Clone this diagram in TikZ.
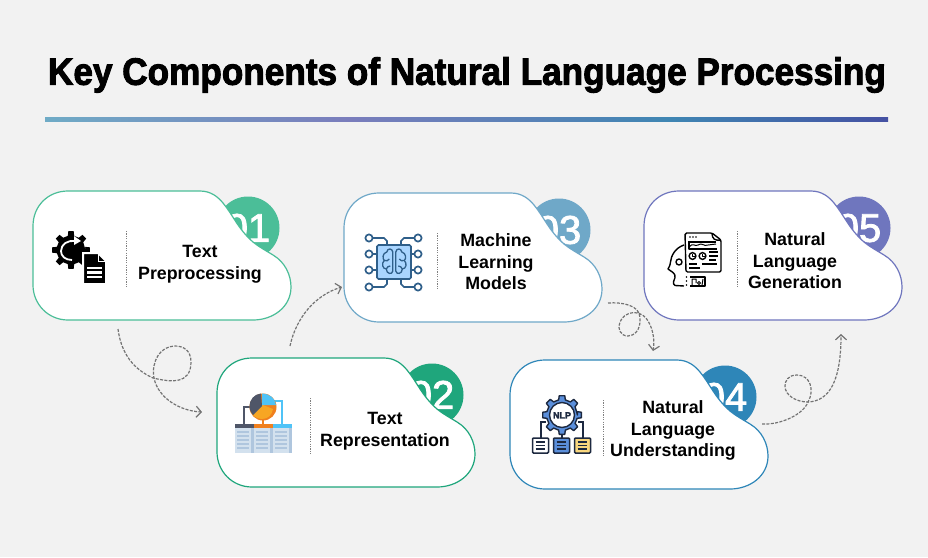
\documentclass[tikz,border=0pt]{standalone}
\usepackage{fontspec}
\setmainfont{Liberation Sans}
\newfontfamily\titlefont[UprightFont=* Bold,FakeBold=2.6]{Liberation Sans}
\newfontfamily\cardfont[UprightFont=* Bold]{Liberation Sans}
\newfontfamily\numfont[FakeBold=2]{Liberation Sans}
\usetikzlibrary{arrows.meta}

\definecolor{pagegray}{HTML}{F2F2F2}
\definecolor{cgreena}{HTML}{4BBE98}
\definecolor{cgreenb}{HTML}{1FA67C}
\definecolor{cbluea}{HTML}{6FA8C8}
\definecolor{cblueb}{HTML}{2E86B8}
\definecolor{cviolet}{HTML}{6F76BE}
\definecolor{ruleA}{HTML}{6FABC6}
\definecolor{ruleB}{HTML}{7A7DBC}
\definecolor{ruleC}{HTML}{3F86B3}
\definecolor{ruleD}{HTML}{4551A3}
\definecolor{slate}{HTML}{4F5668}
\definecolor{skyb}{HTML}{4FC3F7}
\definecolor{amber}{HTML}{F7A623}
\definecolor{ambd}{HTML}{F0801E}
\definecolor{tabl}{HTML}{D3E1EE}
\definecolor{tabd}{HTML}{AFC6DE}
\definecolor{chipf}{HTML}{A9D5FF}
\definecolor{chipl}{HTML}{2F5F8A}
\definecolor{navy}{HTML}{1D2940}
\definecolor{cogb}{HTML}{5B8FDB}
\definecolor{docy}{HTML}{F9D77E}
\pgfdeclarehorizontalshading{rulefade}{100bp}{color(0bp)=(ruleA); color(25bp)=(ruleA); color(43bp)=(ruleB); color(62bp)=(ruleC); color(75bp)=(ruleD); color(100bp)=(ruleD)}

\tikzset{
	badge/.style={circle, minimum size=63pt, inner sep=0pt},
	numtext/.style={text=white, font=\numfont\fontsize{40}{40}\selectfont, inner sep=0pt},
	cardline/.style={fill=white, line width=1.2pt},
	divider/.style={draw=gray, line width=1pt, dash pattern=on 1.2pt off 1.2pt},
	cardtext/.style={align=center, inner sep=0pt, font=\cardfont\fontsize{17.8}{21.6}\selectfont},
	flow/.style={->, >={Straight Barb[length=5pt,width=11pt]}, draw=black!55, line width=1.2pt, dash pattern=on 3pt off 1.4pt},
}

% name, left, top, colour, number
\newcommand{\card}[5]{
	\begin{scope}[shift={(#2,#3)}]
		\node[badge, fill=#4] (#1badge) at (215,37) {};
		\node[numtext] (#1num) at (215,37) {#5};
		\draw[cardline, draw=#4] (35,0) -- (167,0) .. controls (178,0) and (185,6) .. (190,12)
			.. controls (200,24) and (205,38) .. (220,51) .. controls (226,56) and (232,59) .. (240,64)
			.. controls (252,71) and (258,84) .. (258,96) .. controls (258,116) and (240,129) .. (220,129)
			-- (35,129) .. controls (15,129) and (0,113) .. (0,94) -- (0,35) .. controls (0,15) and (15,0) .. (35,0) -- cycle;
		\coordinate (#1d1) at (93,40);
		\coordinate (#1d2) at (93,97);
		\draw[divider] (#1d1) -- (#1d2);
	\end{scope}
}
% teeth, root radius, tip radius (goes inside a path)
\newcommand{\cogpath}[3]{
	(0:#2) \foreach \k [evaluate=\k as \a using 360*(\k-1)/#1] in {1,...,#1} {
		-- (\a-100/#1:#2) -- (\a-65/#1:#3) -- (\a+65/#1:#3) -- (\a+100/#1:#2)
	} -- cycle
}

\begin{document}
\begin{tikzpicture}[x=1pt, y=-1pt]
	\path[use as bounding box, fill=pagegray] (0,0) rectangle (928,557);

	\node[font=\titlefont\fontsize{38}{38}\selectfont, inner sep=0pt] (title) at (467,75) {\scalebox{0.925}[1]{Key Components of Natural Language Processing}};
	\node[minimum width=843pt, minimum height=4pt, inner sep=0pt, shading=rulefade] (rule) at (466.5,119) {};

	\card{a}{33}{191}{cgreena}{01}
	\card{b}{217}{358}{cgreenb}{02}
	\card{c}{344}{193}{cbluea}{03}
	\card{d}{510}{360}{cblueb}{04}
	\card{e}{644}{191}{cviolet}{05}

	\node[cardtext] (atext) at (200,264.5) {Text\\Preprocessing};
	\node[cardtext] (btext) at (385,431) {Text\\Representation};
	\node[cardtext] (ctext) at (496,262) {Machine\\Learning\\Models};
	\node[cardtext] (dtext) at (673,430.5) {Natural\\Language\\Understanding};
	\node[cardtext] (etext) at (795,261) {Natural\\Language\\Generation};

	% connectors
	\coordinate (f1s) at (118,329);
	\coordinate (f1e) at (202,412);
	\draw[flow] (f1s) .. controls (122,360) and (140,372) .. (153,378) .. controls (170,382) and (191,385) .. (191,362)
		.. controls (191,350) and (183,346) .. (175,346) .. controls (160,346) and (151,362) .. (154,378)
		.. controls (158,398) and (180,411) .. (f1e);
	\coordinate (f2s) at (290,346);
	\coordinate (f2e) at (342,287);
	\draw[flow] (f2s) .. controls (296,318) and (315,295) .. (f2e);
	\coordinate (f3s) at (608,303);
	\coordinate (f3e) at (653,351);
	\draw[flow] (f3s) .. controls (622,302) and (640,305) .. (640,318) .. controls (641,330) and (634,336) .. (628,336)
		.. controls (620,336) and (617,328) .. (620,322) .. controls (624,312) and (638,309) .. (646,318)
		.. controls (653,327) and (655,340) .. (f3e);
	\coordinate (f4s) at (762,424);
	\coordinate (f4e) at (841,334);
	\draw[flow] (f4s) .. controls (780,425) and (803,415) .. (808,402) .. controls (815,390) and (810,375) .. (797,375)
		.. controls (788,375) and (785,381) .. (785,386) .. controls (785,396) and (797,402) .. (808,402)
		.. controls (830,401) and (841,380) .. (f4e);

	% icon 1
	\begin{scope}[shift={(71,250)}]
		\fill[black] \cogpath{8}{14.5}{19};
		\draw[white, line width=1.8pt] (4,-9) .. controls (-3,-10) and (-10,-6) .. (-10,1) .. controls (-10,6) and (-6,10) .. (1,10);
		\fill[white] (3,-14) -- (10,-9) -- (3,-5) -- cycle;
	\end{scope}
	\fill[black, draw=white, line width=2pt] (83,253) -- (98,253) -- (106,261) -- (106,284) -- (83,284) -- cycle;
	\draw[white, line width=1pt] (98,253) -- (98,261) -- (106,261);
	\foreach \yy in {268,272.5,277} \draw[white, line width=2.2pt] (87,\yy) -- (102,\yy);

	% icon 2
	\draw[slate, line width=1.6pt] (244,424) -- (244,407) -- (252,407);
	\draw[skyb, line width=1.6pt] (282,424) -- (282,401) -- (272,401);
	\draw[ambd, line width=2pt] (263,418) -- (263,424);
	\foreach \xx/\cc in {235/slate,254/ambd,273/skyb} {
		\fill[tabl] (\xx,424) rectangle ++(19,29);
		\fill[tabd] (\xx+16,424) rectangle ++(3,29);
		\fill[\cc] (\xx,424) rectangle ++(19,4);
		\foreach \yy in {432,436,440,444,448} \draw[tabd, line width=1.2pt] (\xx+2,\yy) -- ++(12,0);
	}
	\fill[ambd] (263,407) circle[radius=13.5];
	\fill[amber] (250.5,407) .. controls (250,415) and (256,419) .. (262,419) .. controls (268,419) and (272,415) .. (273,409) -- (263,405) -- cycle;
	\fill[skyb] (262,393.5) -- (262,405) -- (276,405) .. controls (275,398) and (270,394) .. (262,393.5) -- cycle;
	\fill[slate] (261,393.5) .. controls (254,394) and (249.5,400) .. (249.5,406) .. controls (249.5,410) and (251,413) .. (253,415) -- (262,406) -- cycle;

	% icon 3
	\begin{scope}[chipl, line width=1.7pt]
		\draw[fill=chipf, rounded corners=1.5pt] (377,245) rectangle (411,279);
		\foreach \yy in {254,270} {
			\draw (372.5,\yy) -- (377,\yy);
			\draw (411,\yy) -- (414.5,\yy);
		}
		\draw (372.5,238) -- (384,238) -- (387,241) -- (387,245);
		\draw (414.5,238) -- (404,238) -- (401,241) -- (401,245);
		\draw (372.5,287) -- (384,287) -- (387,284) -- (387,279);
		\draw (414.5,287) -- (404,287) -- (401,284) -- (401,279);
		\foreach \xx in {369,418} \foreach \yy in {238,254,270,287} \draw (\xx,\yy) circle[radius=3.6];
		\foreach \sx in {1,-1} {
			\begin{scope}[shift={(394.3,262)}, xscale=\sx, line width=1.3pt]
				\draw (-1.5,-10) .. controls (-2,-14) and (-7,-14) .. (-7.5,-10) .. controls (-12,-9) and (-12,-3) .. (-10,-1.5)
					.. controls (-13,1) and (-12,7) .. (-8,7) .. controls (-8,12) and (-2,13) .. (-1.5,9) -- cycle;
				\draw (-10,-1.5) .. controls (-8,-1) and (-6,-1) .. (-5,-3);
				\draw (-8,7) .. controls (-7,5) and (-6,4) .. (-4,4);
			\end{scope}
		}
	\end{scope}

	% icon 4
	\begin{scope}[shift={(562,415)}]
		\draw[navy, line width=1.4pt, fill=cogb, line join=round] \cogpath{8}{15.5}{19.5};
		\draw[navy, line width=1.4pt, fill=white] (0,0) circle[radius=12.5];
		\node[font=\titlefont\fontsize{9}{9}\selectfont, text=navy, inner sep=0pt] (nlp) at (0,0.3) {NLP};
	\end{scope}
	\draw[navy, line width=1.3pt] (546,422) -- (541,422) -- (541,438);
	\draw[navy, line width=1.3pt] (578,422) -- (583,422) -- (583,438);
	\draw[navy, line width=1.3pt] (562,434) -- (562,438);
	\foreach \xx/\cc in {532.5/white,553.5/cogb,574.5/docy} {
		\draw[navy, line width=1.5pt, fill=\cc, rounded corners=1pt] (\xx,438) rectangle ++(16,15);
		\foreach \yy in {442,445.5,449} \draw[navy, line width=1.3pt] (\xx+3,\yy) -- ++(9,0);
	}

	% icon 5
	\begin{scope}[black, line width=1.4pt, line join=round]
		\draw[fill=white, rounded corners=1.5pt] (685,233) -- (712,233) -- (721,240) -- (721,272) -- (690,272) -- (686,272) -- cycle;
		\draw (712,233) .. controls (712,239) and (715,241) .. (721,240);
		\foreach \xx in {690,693,696} \fill (\xx,237) circle[radius=0.8];
		\draw (688,242) -- (716,242);
		\draw (689,243) -- (689,249) -- (717,249);
		\draw[line width=1pt] (689,247) .. controls (693,242) and (695,247) .. (698,245) .. controls (702,242) and (704,247) .. (708,245) .. controls (711,243) and (713,246) .. (716,244);
		\draw (692.5,256) circle[radius=3.4];
		\draw (702.5,256) circle[radius=3.4];
		\draw[line width=1pt] (692.5,253.5) -- (692.5,256) -- (694.5,256);
		\draw[line width=1pt] (702.5,253.5) -- (702.5,256) -- (704.5,256);
		\draw (709,252) -- (718,252);
		\draw (709,256) -- (718,256);
		\draw (709,260) -- (716,260);
		\draw (689,264) -- (697,264);
		\draw (702,264) -- (717,264);
		\draw (689,268) -- (700,268);
		\draw (684,245) .. controls (675,248) and (671,256) .. (670.5,262) .. controls (670,266) and (669,267) .. (668,269) -- (673,272.5) .. controls (675,273) and (675,276) .. (675,277.5)
			.. controls (674,280) and (672,284) .. (675,285.5) -- (684,286);
		\draw (679,262) circle[radius=3];
		\draw (690,277) -- (705,277) -- (705,286) -- (690,286);
		\foreach \yy in {277,281,285} \fill (686.5,\yy) circle[radius=0.8];
		\draw[line width=1pt] (692,285) -- (692,279) -- (696,279) -- (696,283) (699,283) circle[radius=1.5] (702,285) -- (703,279);
	\end{scope}
\end{tikzpicture}
\end{document}
